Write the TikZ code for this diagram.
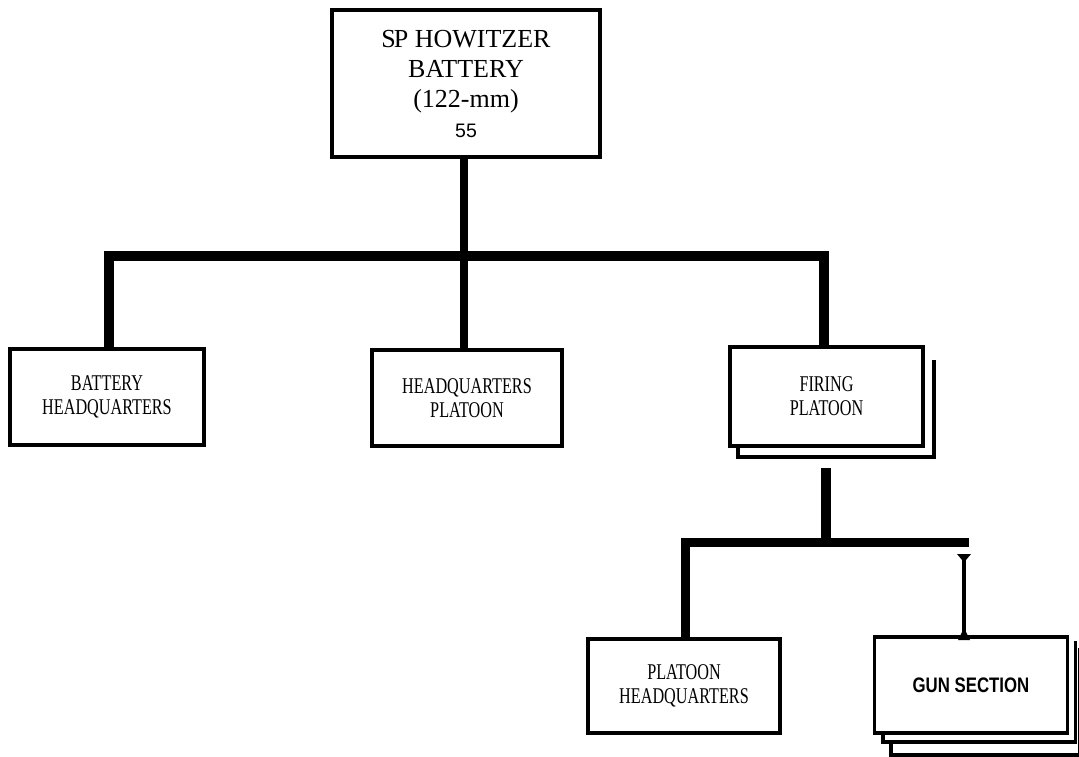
\documentclass[tikz,border=0pt]{standalone}
\usepackage{fontspec}
\setmainfont{Liberation Serif}
\newfontfamily\condserif[FakeStretch=0.72]{Liberation Serif}
\newfontfamily\plainsans{Liberation Sans}
\newfontfamily\gunfont[FakeStretch=0.8]{Liberation Sans}
\usetikzlibrary{calc}
\tikzset{
  unitbox/.style={draw, line width=4.5pt, inner sep=0pt, align=center,
    font=\condserif\fontsize{22.5}{24}\selectfont},
  conn/.style={line width=10pt, line join=miter},
  shadowline/.style={line width=4pt},
  gunline/.style={line width=3.5pt},
}
\begin{document}
\begin{tikzpicture}[x=1pt,y=-1pt]
\useasboundingbox[fill=white] (0,0) rectangle (1079,756);

% boxes
\node[unitbox, minimum width=268pt, minimum height=147pt,
  font=\fontsize{26}{30}\selectfont] (top) at (466,83.5)
  {S\kern-2pt P HOWITZER\\BATTERY\\(122-mm)\\{\plainsans\fontsize{19.5}{30}\selectfont 55}};
\node[unitbox, minimum width=194pt, minimum height=96pt] (bhq) at (107,397)
  {BATTERY\\HEADQUARTERS};
\node[unitbox, minimum width=190pt, minimum height=96pt] (hqp) at (467,398)
  {HEADQUARTERS\\PLATOON};
\node[unitbox, minimum width=193pt, minimum height=99pt] (fp) at (826.5,396.5)
  {FIRING\\PLATOON};
\node[unitbox, minimum width=192pt, minimum height=94pt] (phq) at (684,686)
  {PLATOON\\HEADQUARTERS};
\node[unitbox, line width=3.5pt, minimum width=193pt, minimum height=96pt,
  font=\gunfont\bfseries\fontsize{21}{24}\selectfont] (gun) at (971,685)
  {GUN SECTION};

% shadows of stacked boxes
\draw[shadowline] ($(fp.north east)+(9,15)$) -- ($(fp.south east)+(9,9)$)
  -- ($(fp.south west)+(10,9)$) -- ($(fp.south west)+(10,0)$);
\draw[gunline] ($(gun.north east)+(6,6)$) -- ($(gun.south east)+(6,7)$)
  -- ($(gun.south west)+(10,7)$) -- ($(gun.south west)+(10,0)$);
\draw[gunline] ($(gun.north east)+(10,13)$) -- ($(gun.south east)+(10,20)$)
  -- ($(gun.south west)+(18,20)$) -- ($(gun.south west)+(18,7)$);

% junction coordinates
\coordinate (j1) at (464,255.5);
\coordinate (bl) at (109,255.5);
\coordinate (br) at (824,255.5);
\coordinate (l1) at (826,542.5);
\coordinate (ll) at (685.5,542.5);
\coordinate (lr) at (969,542.5);
\coordinate (ib) at (964,556);

% connectors
\draw[conn, line width=8.5pt] (top.south -| j1) -- (hqp.north -| j1);
\draw[conn] (bhq.north -| bl) -- (bl) -- (br) -- (fp.north -| br);
\draw[conn] ([yshift=-20pt]fp.south -| l1) -- (l1);
\draw[conn, line width=9.5pt] (phq.north -| ll) -- (ll) -- (lr);
\draw[line width=4pt] (gun.north -| ib) -- (ib);
\fill (957,554) -- (971,554) -- (966,560) -- (962,560) -- cycle;
\fill (962,632) -- (966,632) -- (970,640) -- (958,640) -- cycle;
\end{tikzpicture}
\end{document}
